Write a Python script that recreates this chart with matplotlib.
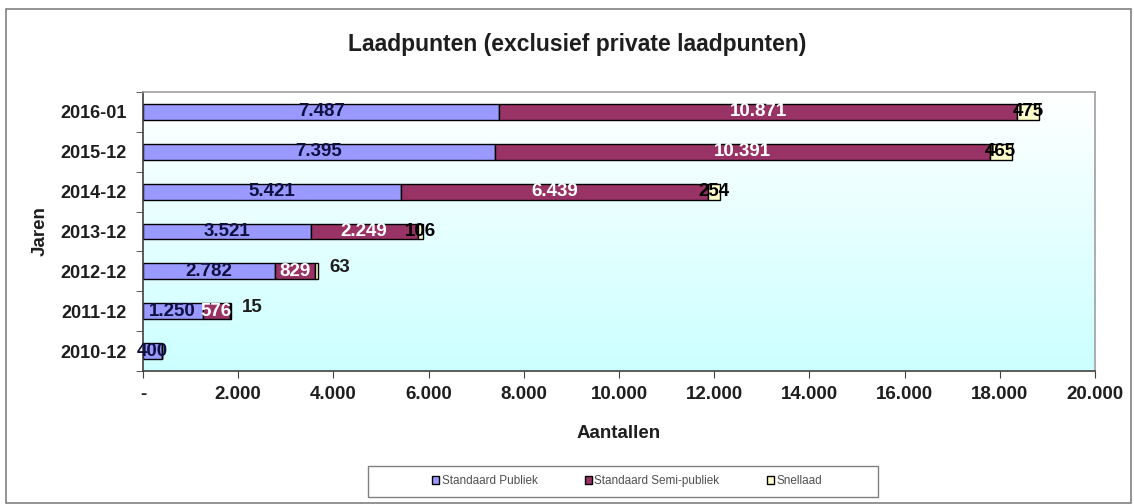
import matplotlib
matplotlib.use("Agg")
import matplotlib.pyplot as plt
import numpy as np
from matplotlib.patches import Rectangle
from matplotlib.ticker import FuncFormatter, FixedLocator
from matplotlib.colors import LinearSegmentedColormap

plt.rcParams['font.family'] = ['Liberation Sans', 'DejaVu Sans']
TXT = "#1e1e1e"

years = ["2010-12", "2011-12", "2012-12", "2013-12", "2014-12", "2015-12", "2016-01"]
publiek = [400, 1250, 2782, 3521, 5421, 7395, 7487]
semi_publiek = [0, 576, 829, 2249, 6439, 10391, 10871]
snellaad = [0, 15, 63, 106, 254, 465, 475]
series_names = ["Standaard Publiek", "Standaard Semi-publiek", "Snellaad"]
colors = ["#9999FF", "#993366", "#FFFFCC"]
label_colors = ["#101040", "white", "black"]
xticks = [0, 2000, 4000, 6000, 8000, 10000, 12000, 14000, 16000, 18000, 20000]

def nl(v):
    return f"{v:,.0f}".replace(",", ".")

W, H = 1134, 504
fig = plt.figure(figsize=(W / 100, H / 100), dpi=100)
fig.patch.set_facecolor("white")
fig.add_artist(Rectangle((6/W, 0.002), 1 - 9/W, 1 - 9/H - 0.002, transform=fig.transFigure,
                         fill=False, edgecolor="#808080", lw=1.2))

ax = fig.add_axes([143/W, 1 - 371/H, (1095 - 143)/W, (371 - 92)/H])

grad = np.linspace(0, 1, 256).reshape(-1, 1)
cmap = LinearSegmentedColormap.from_list("bg", ["#FFFFFF", "#CCFFFF"])
ax.imshow(grad, aspect="auto", cmap=cmap, extent=[0, 1, 0, 1], transform=ax.transAxes, zorder=0)

y = np.arange(len(years))
h = 0.4
left = np.zeros(len(years))
series = [publiek, semi_publiek, snellaad]
for i, (vals, name) in enumerate(zip(series, series_names)):
    vals = np.array(vals, dtype=float)
    ax.barh(y, vals, left=left, height=h, color=colors[i], edgecolor="black", lw=1.0,
            label=name, zorder=2)
    for j, v in enumerate(vals):
        if v <= 0:
            continue
        cx = left[j] + v / 2
        if i == 2 and v < 100:
            cx = left[j] + v + 450
            ax.text(cx, y[j] + 0.1, nl(v), ha="center", va="center", fontsize=13.5,
                    fontweight="bold", color=TXT, zorder=3)
        else:
            ax.text(cx, y[j], nl(v), ha="center", va="center", fontsize=13.5,
                    fontweight="bold", color=label_colors[i], zorder=3)
    left += vals

ax.set_xlim(0, 20000)
ax.set_ylim(-0.5, len(years) - 0.5)
ax.set_yticks(y)
ax.set_yticklabels(years, fontsize=13, fontweight="bold", color=TXT)
ax.yaxis.set_minor_locator(FixedLocator(np.arange(-0.5, len(years), 1.0)))
ax.tick_params(axis="y", which="major", length=0, pad=12)
ax.tick_params(axis="y", which="minor", length=5, direction="out", color="#404040")
ax.set_xticks(xticks)
ax.xaxis.set_major_formatter(FuncFormatter(lambda v, p: "-" if v == 0 else nl(v)))
ax.tick_params(axis="x", length=5, direction="out", color="#404040", labelsize=13.5, pad=6,
               labelcolor=TXT)
for lab in ax.get_xticklabels():
    lab.set_fontweight("bold")

for s in ["top", "right"]:
    ax.spines[s].set_color("#A0A0A0")
    ax.spines[s].set_linewidth(1.2)
for s in ["left", "bottom"]:
    ax.spines[s].set_color("#404040")
    ax.spines[s].set_linewidth(1.2)

ax.set_xlabel("Aantallen", fontsize=13.5, fontweight="bold", labelpad=16, color=TXT)
ax.set_ylabel("Jaren", fontsize=13.5, fontweight="bold", labelpad=8, color=TXT)
fig.text(577/W, 1 - 45/H, "Laadpunten (exclusief private laadpunten)", ha="center",
         va="center", fontsize=16.5, fontweight="bold", color=TXT)

# legend frame
fig.add_artist(Rectangle((368/W, 1 - 497/H), (878 - 368)/W, (497 - 466)/H,
                         transform=fig.transFigure, facecolor="white", edgecolor="#808080",
                         lw=1.0, zorder=4))
handles, labels = ax.get_legend_handles_labels()
leg = fig.legend(handles, labels, loc="center", bbox_to_anchor=(627/W, 1 - 481/H), ncol=3,
                 fontsize=8.5, frameon=False,
                 handlelength=0.6, handleheight=0.6, handletextpad=0.2, columnspacing=4.0,
                 borderpad=0.0)
for t in leg.get_texts():
    t.set_color("#505050")
leg.set_zorder(5)

fig.savefig("out.png", dpi=100)
